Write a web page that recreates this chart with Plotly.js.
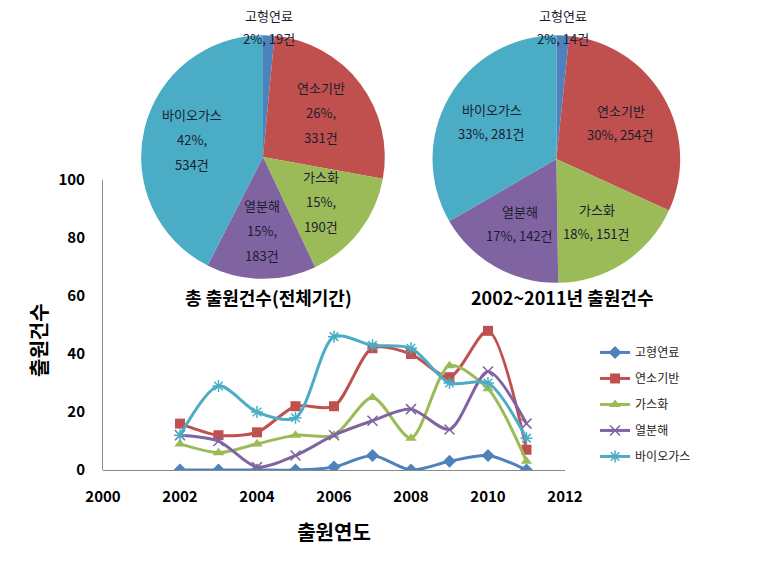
<!DOCTYPE html>
<html><head><meta charset="utf-8">
<script src="https://cdn.plot.ly/plotly-3.0.1.min.js"></script>
<style>body{margin:0;background:#fff}#c{width:759px;height:568px}</style>
</head><body><div id="c"></div>
<script>
const categories = ['고형연료','연소기반','가스화','열분해','바이오가스'];
const years = [2002,2003,2004,2005,2006,2007,2008,2009,2010,2011];
const solidFuel   = [0,0,0,0,1,5,0,3,5,0];
const combustion  = [16,12,13,22,22,42,40,32,48,7];
const gasification= [9,6,9,12,12,25,11,36,28,3];
const pyrolysis   = [12,10,1,5,12,17,21,14,34,16];
const biogas      = [12,29,20,18,46,43,42,30,30,11];
const totalAll    = [19,331,190,183,534];
const total0211   = [14,254,151,142,281];
const pieTitles   = ['총 출원건수(전체기간)','2002~2011년 출원건수'];
const xTitle = '출원연도', yTitle = '출원건수', unit = '건';

const W = 759, H = 568;
const colors = ['#4F81BD','#C0504D','#9BBB59','#8064A2','#4BACC6'];
const markers = ['diamond','square','triangle-up','x-thin-open','asterisk-open'];
const series = [solidFuel, combustion, gasification, pyrolysis, biogas];
const FONT = '"Noto Sans CJK KR", "Noto Sans", sans-serif';

const traces = series.map((ys,i)=>({
  type:'scatter', mode:'lines+markers', x:years, y:ys, name:categories[i], legendgroup:'g'+i,
  line:{color:colors[i], width:3, shape:'spline', smoothing:0.8},
  marker:{symbol:markers[i], color:colors[i], size:10,
          line:{color:colors[i], width: i>=3 ? 1.5 : 0}},
  xaxis:'x', yaxis:'y'
}));

const pieDomains = [
  {x:[0.186,0.507], y:[0.509,0.938]},
  {x:[0.569,0.897], y:[0.502,0.938]}
];
const pieData = [totalAll, total0211];

const pies = pieData.map((vals,k)=>({type:'pie', labels:categories, values:vals, sort:false,
  direction:'clockwise', rotation:0, marker:{colors:colors}, domain:pieDomains[k],
  textinfo:'none', hoverinfo:'none', showlegend:false}));

// Slice labels placed at each slice's mid-angle, derived from the values
const annotations = [];
const pieFont = {family:FONT, size:13, color:'#1c1c30'};
pieData.forEach((vals,k)=>{
  const d = pieDomains[k];
  const cx = (d.x[0]+d.x[1])/2*W, cy = (1-(d.y[0]+d.y[1])/2)*H;
  const r = Math.min((d.x[1]-d.x[0])*W, (d.y[1]-d.y[0])*H)/2;
  const tot = vals.reduce((a,b)=>a+b,0);
  let cum = 0;
  vals.forEach((v,i)=>{
    const frac = v/tot;
    const mid = (cum + frac/2)*2*Math.PI; cum += frac;
    const pct = Math.round(frac*100)+'%';
    const small = frac < 0.05;
    let lines, gap, kr;
    if (small) { lines = [categories[i], pct+', '+v+unit]; gap = 23; kr = 1.07; }
    else if (k===0) { lines = [categories[i], pct+',', v+unit]; gap = 25; kr = 0.6; }
    else { lines = [categories[i], pct+', '+v+unit]; gap = 24; kr = 0.6; }
    const px = cx + kr*r*Math.sin(mid), py = cy - kr*r*Math.cos(mid);
    lines.forEach((t,j)=>{
      const ly = py + (j-(lines.length-1)/2)*gap;
      annotations.push({text:t, x:px/W, y:1-ly/H, xref:'paper', yref:'paper', showarrow:false,
        xanchor:'center', yanchor:'middle', font:pieFont});
    });
  });
  annotations.push({text:pieTitles[k], x:cx/W + 0.007, y:1-297/H, xref:'paper', yref:'paper', showarrow:false,
     xanchor:'center', yanchor:'middle', font:{size:18, family:FONT, weight:'bold'}});
});
annotations.push({text:yTitle, x:38/W, y:1-340/H, xref:'paper', yref:'paper', showarrow:false,
  xanchor:'center', yanchor:'middle', textangle:-90, font:{size:20, family:FONT, weight:'bold'}});

const layout = {
  width:W, height:H, margin:{l:0,r:0,t:0,b:0},
  paper_bgcolor:'#fff', plot_bgcolor:'rgba(0,0,0,0)',
  font:{family:FONT, color:'#000'},
  xaxis:{domain:[0.1357,0.7444], range:[2000,2012], dtick:2, tick0:2000, showgrid:false, zeroline:false,
    showline:false, ticks:'', ticklabelstandoff:16, tickfont:{size:15, family:FONT, weight:'bold'},
    title:{text:xTitle, font:{size:20, family:FONT, weight:'bold'}, standoff:20}},
  yaxis:{domain:[0.1725,0.683], range:[0,100], dtick:20, showgrid:false, zeroline:true, zerolinecolor:'#888', zerolinewidth:1,
    showline:true, linecolor:'#888', linewidth:1, ticks:'', ticklabelstandoff:14, tickfont:{size:15, family:FONT, weight:'bold'}},
  legend:{x:0.784, y:0.405, xanchor:'left', yanchor:'top', font:{size:12, family:FONT, color:'#222'},
    tracegroupgap:7, itemwidth:30},
  annotations:annotations
};
Plotly.newPlot('c', traces.concat(pies), layout, {displayModeBar:false, staticPlot:true});
</script></body></html>
